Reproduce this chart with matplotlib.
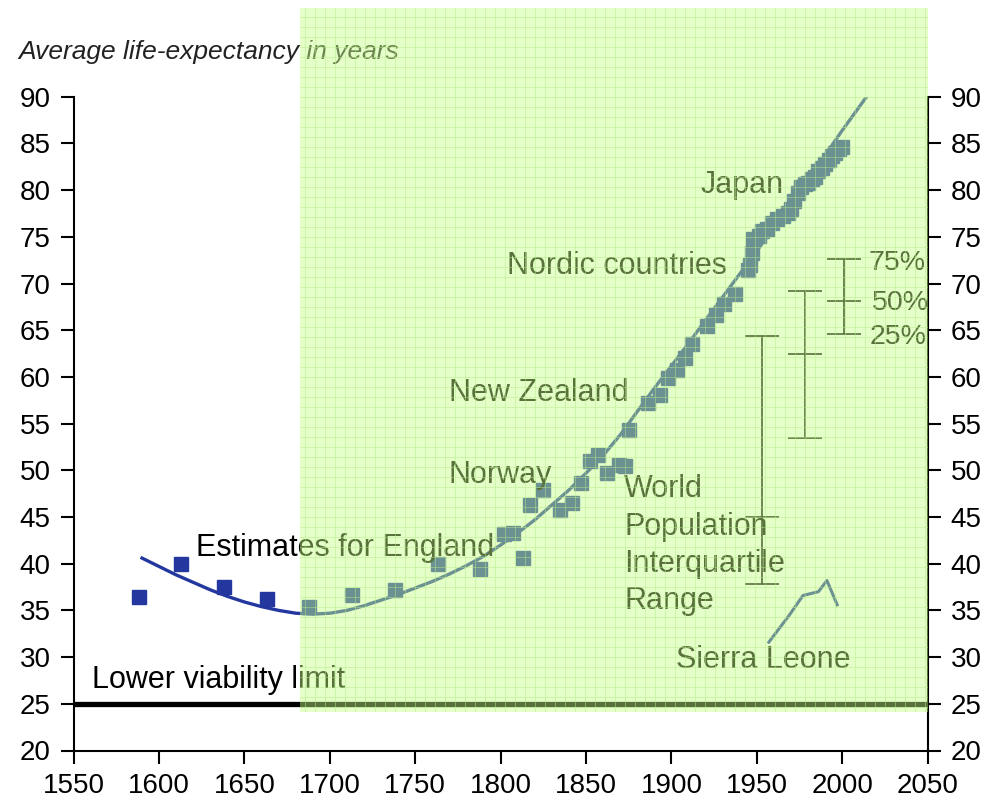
import numpy as np
import matplotlib
matplotlib.use('Agg')
import matplotlib.pyplot as plt

plt.rcParams['font.family'] = ['Liberation Sans', 'DejaVu Sans']

# England estimates (blue squares)
england_year = [1588, 1613, 1638, 1663, 1688, 1713, 1738, 1763, 1788, 1813]
england_life = [36.4, 40.0, 37.5, 36.2, 35.4, 36.6, 37.2, 40.0, 39.4, 40.6]

# record life expectancy (Norway, New Zealand, Nordic countries, Japan)
record_year = [1802, 1807, 1817, 1825, 1835, 1842, 1847, 1852, 1857, 1862, 1869, 1873,
	1875, 1886, 1893, 1898, 1903, 1908, 1912, 1921, 1926, 1931, 1937, 1945, 1946, 1947,
	1948, 1951, 1953, 1956, 1959, 1962, 1965, 1968, 1970, 1972, 1974, 1976, 1978, 1980,
	1982, 1984, 1986, 1988, 1990, 1992, 1994, 1996, 1998, 2000]
record_life = [43.2, 43.3, 46.3, 47.9, 45.7, 46.5, 48.6, 51.0, 51.6, 49.7, 50.6, 50.5,
	54.3, 57.2, 58.1, 59.9, 60.7, 62.0, 63.5, 65.5, 66.6, 67.8, 68.9, 71.4, 72.0, 73.3,
	74.8, 75.1, 75.6, 75.8, 76.5, 76.9, 77.2, 77.6, 78.0, 78.8, 79.7, 80.3, 80.6, 80.8,
	81.2, 81.4, 82.0, 82.4, 82.8, 83.2, 83.7, 84.0, 84.4, 84.6]

# fitted trend line
trend_year = [1590, 1600, 1610, 1620, 1630, 1640, 1650, 1660, 1670, 1680, 1690, 1700,
	1710, 1720, 1730, 1740, 1750, 1760, 1770, 1780, 1790, 1800, 1810, 1820, 1830, 1840,
	1850, 1860, 1870, 1880, 1890, 1900, 1910, 1920, 1935, 1950, 1965, 1980, 2000, 2015]
trend_life = [40.6, 39.7, 38.8, 38.0, 37.2, 36.5, 35.9, 35.4, 35.0, 34.7, 34.6, 34.7,
	35.0, 35.5, 36.1, 36.7, 37.4, 38.1, 38.9, 39.8, 40.8, 42.0, 43.3, 44.7, 46.3, 47.9,
	49.7, 51.6, 53.8, 56.3, 58.8, 61.2, 63.6, 66.1, 69.8, 73.5, 77.3, 81.1, 86.4, 90.2]

# Sierra Leone
sl_year = [1957, 1969, 1977, 1986, 1991, 1997]
sl_life = [31.6, 34.5, 36.6, 37.0, 38.2, 35.6]

# world population interquartile range
iqr_year = [1953, 1978, 2001]
iqr_q25 = [37.8, 53.5, 64.6]
iqr_q50 = [45.0, 62.5, 68.1]
iqr_q75 = [64.4, 69.2, 72.6]

viability = 25

BLUE = '#23379f'
W, H = 987, 802

fig = plt.figure(figsize=(W / 100, H / 100), dpi=100)
ax = fig.add_axes([73.7 / W, 1 - 750.5 / H, 854.0 / W, 653.8 / H])
ax.set_xlim(1550, 2050)
ax.set_ylim(20, 90)
ax.set_xticks(np.arange(1550, 2051, 50))
ax.set_yticks(np.arange(20, 91, 5))
ax.spines['top'].set_visible(False)
for s in ['left', 'right', 'bottom']:
	ax.spines[s].set_linewidth(1.5)
ax.tick_params(direction='out', length=9.5, width=1.5, pad=7, labelsize=20,
	right=True, labelright=True)

# lower viability limit
ax.axhline(viability, color='black', lw=3.8, zorder=2)

# trend and data
ax.plot(trend_year, trend_life, color=BLUE, lw=2.4, zorder=3)
ax.plot(england_year, england_life, 's', color=BLUE, ms=10, zorder=4)
ax.plot(record_year, record_life, 's', color=BLUE, ms=10, zorder=4)
ax.plot(sl_year, sl_life, color=BLUE, lw=2.2, zorder=3)

# interquartile bars
ax.vlines(iqr_year, iqr_q25, iqr_q75, color='black', lw=1.2, zorder=3)
for q in [iqr_q25, iqr_q50, iqr_q75]:
	ax.hlines(q, np.array(iqr_year) - 10, np.array(iqr_year) + 10, color='black', lw=1.2, zorder=3)

lab = dict(fontsize=22, color='black', va='baseline', ha='left', zorder=5)
ax.text(1561, 26.7, 'Lower viability limit', **lab)
ax.text(1621.5, 40.8, 'Estimates for England', **lab)
ax.text(1769.7, 48.6, 'Norway', **lab)
ax.text(1769.7, 57.45, 'New Zealand', **lab)
ax.text(1803.7, 71.0, 'Nordic countries', **lab)
ax.text(1917.0, 79.7, 'Japan', **lab)
ax.text(1902.6, 28.8, 'Sierra Leone', **lab)
for i, line in enumerate(['World', 'Population', 'Interquartile', 'Range']):
	ax.text(1872.3, 47.1 - i * 4.0, line, **lab)
pct = dict(lab, fontsize=20.5)
ax.text(2015.2, 71.45, '75%', **pct)
ax.text(2017.5, 67.2, '50%', **pct)
ax.text(2016.2, 63.5, '25%', **pct)

fig.text(18 / W, 1 - 59.3 / H, 'Average life-expectancy in years', fontsize=19,
	style='italic', color='#222222', va='baseline', ha='left')

# translucent green overlay with grid pattern
to_fig = ax.transData + fig.transFigure.inverted()
x0, y0 = to_fig.transform((1682.5, 24.1))
x1, y1 = to_fig.transform((2050, 99.5))
ov = fig.add_axes([x0, y0, x1 - x0, y1 - y0])
ov.set_zorder(10)
wpx, hpx = (x1 - x0) * W, (y1 - y0) * H
ov.set_xlim(0, wpx)
ov.set_ylim(0, hpx)
ov.patch.set_facecolor((0.78, 1.0, 0.52, 0.45))
ov.set_xticks(np.arange(5, wpx, 10))
ov.set_yticks(np.arange(5, hpx, 10))
ov.grid(True, color='#b4ec84', lw=0.6, alpha=0.55)
ov.tick_params(length=0, labelbottom=False, labelleft=False)
for s in ov.spines.values():
	s.set_visible(False)

fig.savefig('out.png', dpi=100)
